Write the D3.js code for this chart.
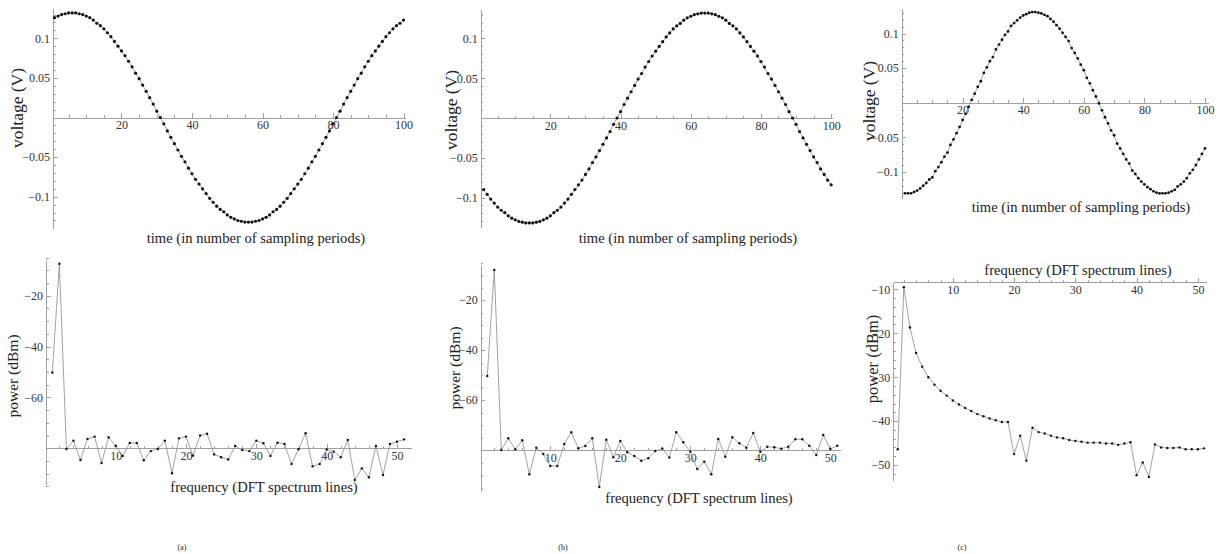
<!DOCTYPE html>
<html lang="en">
<head>
<meta charset="UTF-8">
<title>Sampled sine waves and their DFT spectra</title>
<script src="https://d3js.org/d3.v7.min.js"></script>
<style>
  body { margin: 0; background: #fff; }
  svg { font-family: "Liberation Serif", "Times New Roman", serif; }
  .axis line, .axis path { stroke: #a0a0a0; shape-rendering: crispEdges; }
  .lbl { fill: #222; }
</style>
</head>
<body>
<div id="chart"></div>
<script>
// voltage of each sample (V), sampling periods 1..100
var voltA = [0.126,0.128,0.130,0.131,0.132,0.132,0.132,0.131,0.130,0.128,
             0.126,0.123,0.119,0.116,0.112,0.107,0.102,0.096,0.090,0.084,
             0.078,0.071,0.064,0.056,0.049,0.041,0.033,0.025,0.017,0.008,
             0,-0.008,-0.017,-0.025,-0.033,-0.041,-0.049,-0.056,-0.064,-0.071,
             -0.078,-0.084,-0.090,-0.096,-0.102,-0.107,-0.112,-0.116,-0.119,-0.123,
             -0.126,-0.128,-0.130,-0.131,-0.132,-0.132,-0.132,-0.131,-0.130,-0.128,
             -0.126,-0.123,-0.119,-0.116,-0.112,-0.107,-0.102,-0.096,-0.090,-0.084,
             -0.078,-0.071,-0.064,-0.056,-0.049,-0.041,-0.033,-0.025,-0.017,-0.008,
             0,0.008,0.017,0.025,0.033,0.041,0.049,0.056,0.064,0.071,
             0.078,0.084,0.090,0.096,0.102,0.107,0.112,0.116,0.119,0.123];
var voltB = [-0.090,-0.096,-0.102,-0.107,-0.112,-0.116,-0.119,-0.123,-0.126,-0.128,
             -0.130,-0.131,-0.132,-0.132,-0.132,-0.131,-0.130,-0.128,-0.126,-0.123,
             -0.119,-0.116,-0.112,-0.107,-0.102,-0.096,-0.090,-0.084,-0.078,-0.071,
             -0.064,-0.056,-0.049,-0.041,-0.033,-0.025,-0.017,-0.008,0,0.008,
             0.017,0.025,0.033,0.041,0.049,0.056,0.064,0.071,0.078,0.084,
             0.090,0.096,0.102,0.107,0.112,0.116,0.119,0.123,0.126,0.128,
             0.130,0.131,0.132,0.132,0.132,0.131,0.130,0.128,0.126,0.123,
             0.119,0.116,0.112,0.107,0.102,0.096,0.090,0.084,0.078,0.071,
             0.064,0.056,0.049,0.041,0.033,0.025,0.017,0.008,0,-0.008,
             -0.017,-0.025,-0.033,-0.041,-0.049,-0.056,-0.064,-0.071,-0.078,-0.084];
var voltC = [-0.131,-0.131,-0.131,-0.129,-0.127,-0.124,-0.120,-0.116,-0.111,-0.108,
             -0.099,-0.093,-0.086,-0.078,-0.072,-0.061,-0.053,-0.044,-0.035,-0.025,
             -0.016,-0.006,0.004,0.013,0.023,0.031,0.043,0.051,0.060,0.066,
             0.077,0.084,0.091,0.098,0.103,0.111,0.115,0.119,0.123,0.126,
             0.128,0.130,0.131,0.131,0.130,0.129,0.127,0.125,0.121,0.117,
             0.112,0.107,0.101,0.095,0.089,0.079,0.072,0.064,0.055,0.047,
             0.036,0.028,0.018,0.009,-0.001,-0.011,-0.021,-0.030,-0.040,-0.047,
             -0.059,-0.066,-0.074,-0.082,-0.088,-0.098,-0.103,-0.109,-0.114,-0.118,
             -0.122,-0.125,-0.128,-0.130,-0.131,-0.131,-0.131,-0.130,-0.128,-0.126,
             -0.121,-0.118,-0.114,-0.109,-0.102,-0.097,-0.090,-0.082,-0.074,-0.066];

// power of each DFT spectrum line 1..51 (dBm)
var powA = [-50.2,-7.4,-80.3,-77.0,-84.6,-76.3,-75.4,-85.8,-75.7,-79.1,
            -83.0,-77.9,-77.9,-84.7,-81.1,-80.3,-77.0,-89.8,-76.1,-75.4,
            -82.9,-75.0,-74.3,-82.4,-83.5,-84.4,-79.1,-80.7,-81.1,-77.0,
            -78.0,-83.0,-77.8,-78.3,-86.2,-80.4,-74.1,-87.1,-86.2,-80.5,
            -81.3,-83.5,-76.7,-92.5,-87.9,-91.4,-79.1,-90.5,-78.3,-77.4,-76.5];
var powB = [-50.4,-8.0,-80.0,-75.3,-79.7,-76.1,-89.7,-79.1,-81.6,-86.4,
            -86.4,-77.6,-72.9,-79.3,-78.4,-75.3,-94.8,-75.9,-82.9,-76.4,
            -80.9,-82.4,-84.3,-83.3,-80.4,-79.4,-83.0,-72.9,-76.9,-80.7,
            -87.6,-84.7,-89.7,-75.6,-82.7,-74.9,-77.3,-79.1,-73.2,-80.7,
            -78.7,-78.9,-79.5,-78.7,-75.7,-75.7,-78.3,-82.0,-74.0,-79.6,-78.3];
var powC = [-46.4,-9.5,-18.7,-24.5,-27.6,-30.0,-31.7,-33.1,-34.2,-35.3,
            -36.2,-37.0,-37.7,-38.4,-38.9,-39.4,-39.8,-40.2,-40.2,-47.5,
            -43.3,-49.0,-41.5,-42.5,-42.8,-43.3,-43.7,-43.9,-44.3,-44.5,
            -44.7,-44.9,-44.9,-44.9,-45.1,-45.1,-45.4,-45.1,-44.8,-52.3,
            -49.4,-52.7,-45.3,-46.0,-46.1,-46.1,-46.0,-46.4,-46.4,-46.4,-46.2];

var timeTicks = [20, 40, 60, 80, 100];
var voltTicks = [-0.1, -0.05, 0.05, 0.1];
var freqTicks = [10, 20, 30, 40, 50];
var powTicksAB = [-60, -40, -20];
var powTicksC = [-50, -40, -30, -20, -10];

var timeMinor = d3.range(5, 101, 5).filter(function(v) { return v % 20 !== 0; });
var voltMinor = d3.range(-13, 14).filter(function(k) { return k % 5 !== 0; }).map(function(k) { return k / 100; });
var freqMinor = d3.range(2, 52, 2).filter(function(v) { return v % 10 !== 0; });
var powMinorAB = d3.range(-95, -4, 5).filter(function(v) { return v % 20 !== 0; });
var powMinorC = d3.range(-52, -8, 2).filter(function(v) { return v % 10 !== 0; });

var timeTitle = "time (in number of sampling periods)";
var freqTitle = "frequency (DFT spectrum lines)";

var serif = "'Liberation Serif', 'Times New Roman', serif";
var W = 1220, H = 554;
var svg = d3.select("#chart").append("svg").attr("width", W).attr("height", H);

var panels = [
    {data: voltA, xd: [0.6, 100.5], xr: [53.1, 405.3], yd: [-0.1395, 0.138], yr: [228, 8.2], xAxisAt: 0,
     xt: timeTicks, xm: timeMinor, yt: voltTicks, ym: voltMinor, r: 1.6,
     title: timeTitle, tx: 256, ty: 238, ylab: "voltage (V)", lx: 17, ly: 108, lsize: 17.5},
    {data: voltB, xd: [0.15, 100.5], xr: [480.7, 832.9], yd: [-0.1382, 0.1371], yr: [227.9, 9.0], xAxisAt: 0,
     xt: timeTicks, xm: timeMinor, yt: voltTicks, ym: voltMinor, r: 1.6,
     title: timeTitle, tx: 688, ty: 238, ylab: "voltage (V)", lx: 451, ly: 110, lsize: 17.5},
    {data: voltC, xd: [-0.1, 101], xr: [901.7, 1208], yd: [-0.138, 0.1344], yr: [198.2, 9.7], xAxisAt: 0,
     xt: timeTicks, xm: timeMinor, yt: voltTicks, ym: voltMinor, r: 1.4,
     title: timeTitle, tx: 1081, ty: 207, ylab: "voltage (V)", lx: 869, ly: 101, lsize: 17.5},
    {data: powA, xd: [0.1, 52.1], xr: [46, 411.8], yd: [-94.4, -5.95], yr: [484.9, 260], xAxisAt: -80,
     xt: freqTicks, xm: freqMinor, yt: powTicksAB, ym: powMinorAB, r: 1.2,
     title: freqTitle, tx: 264, ty: 487, ylab: "power (dBm)", lx: 12, ly: 376, lsize: 15.5},
    {data: powB, xd: [0.06, 51.5], xr: [480.7, 840.8], yd: [-96.7, -6], yr: [491.75, 265], xAxisAt: -80,
     xt: freqTicks, xm: freqMinor, yt: powTicksAB, ym: powMinorAB, r: 1.2,
     title: freqTitle, tx: 699, ty: 498, ylab: "power (dBm)", lx: 454, ly: 368, lsize: 15.5},
    {data: powC, xd: [0.28, 51.44], xr: [893.3, 1206.7], yd: [-53.4, -8.4], yr: [480, 282.3], xAxisAt: -8.4,
     xt: freqTicks, xm: freqMinor, yt: powTicksC, ym: powMinorC, r: 1.2,
     title: freqTitle, tx: 1078, ty: 270, ylab: "power (dBm)", lx: 872, ly: 359, lsize: 16.5}
];

panels.forEach(drawPanel);

// tick labels: serif, no domain line
function labelStyle(s) {
    s.select(".domain").remove();
    s.attr("font-family", null).attr("font-size", null);
    s.selectAll("text")
        .style("font-family", serif)
        .style("font-size", "12px")
        .style("fill", "#333");
}

function drawPanel(p) {
    var x = d3.scaleLinear().domain(p.xd).range(p.xr);
    var y = d3.scaleLinear().domain(p.yd).range(p.yr);
    var g = svg.append("g");
    var ay = y(p.xAxisAt), ax = x(p.xd[0]);

    // horizontal axis: line + minor + major ticks, then labels below
    var gx = g.append("g").attr("class", "axis").attr("transform", "translate(0," + ay + ")");
    gx.call(d3.axisTop(x).tickValues(p.xm).tickSize(2.5).tickSizeOuter(0).tickFormat(""));
    gx.append("g").call(d3.axisTop(x).tickValues(p.xt).tickSize(4.5).tickFormat(""))
        .call(function(s) { s.select(".domain").remove(); });
    gx.append("g").call(d3.axisBottom(x).tickValues(p.xt).tickSize(0).tickPadding(3))
        .call(labelStyle);

    // vertical axis
    var gy = g.append("g").attr("class", "axis").attr("transform", "translate(" + ax + ",0)");
    gy.call(d3.axisRight(y).tickValues(p.ym).tickSize(2.5).tickSizeOuter(0).tickFormat(""));
    gy.append("g").call(d3.axisRight(y).tickValues(p.yt).tickSize(4.5).tickFormat(""))
        .call(function(s) { s.select(".domain").remove(); });
    gy.append("g").call(d3.axisLeft(y).tickValues(p.yt).tickSize(0).tickPadding(3).tickFormat(d3.format("")))
        .call(labelStyle);

    // joined line and sample points
    var line = d3.line()
        .x(function(d, i) { return x(i + 1); })
        .y(function(d) { return y(d); });
    g.append("path").datum(p.data)
        .attr("d", line)
        .style("fill", "none")
        .style("stroke", "#8a8a8a")
        .style("stroke-width", 0.8);
    g.selectAll("circle").data(p.data).enter().append("circle")
        .attr("cx", function(d, i) { return x(i + 1); })
        .attr("cy", function(d) { return y(d); })
        .attr("r", p.r)
        .style("fill", "#111");

    g.append("text").attr("class", "lbl")
        .attr("x", p.tx).attr("y", p.ty)
        .attr("text-anchor", "middle").attr("dominant-baseline", "central")
        .style("font-size", "14.6px")
        .text(p.title);
    g.append("text").attr("class", "lbl")
        .attr("transform", "translate(" + p.lx + "," + p.ly + ") rotate(-90)")
        .attr("text-anchor", "middle").attr("dominant-baseline", "central")
        .style("font-size", p.lsize + "px")
        .text(p.ylab);
}

// sub-figure captions
var captions = [{t: "(a)", x: 182}, {t: "(b)", x: 563}, {t: "(c)", x: 962}];
svg.selectAll(".cap").data(captions).enter().append("text")
    .attr("class", "cap lbl")
    .attr("x", function(d) { return d.x; })
    .attr("y", 547)
    .attr("text-anchor", "middle").attr("dominant-baseline", "central")
    .style("font-size", "8px")
    .text(function(d) { return d.t; });
</script>
</body>
</html>
